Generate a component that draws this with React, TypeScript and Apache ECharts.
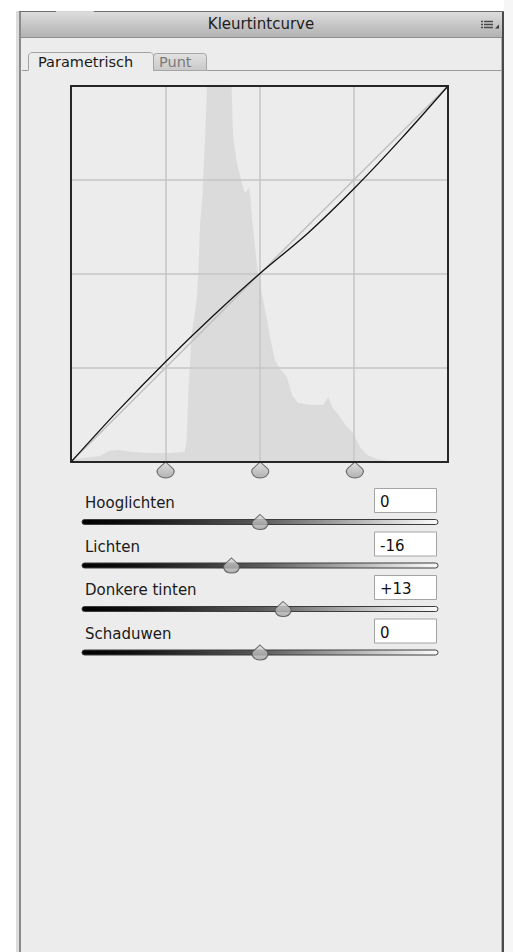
import React, { useEffect, useRef } from "react";
import * as echarts from "echarts";

// ---- data ----
const panelTitle = "Kleurtintcurve";
const tabLabels = ["Parametrisch", "Punt"];

// histogram: input level (0-255) and relative height (1 = top of plot, values above are clipped)
const histLevels = [0, 9.5, 19.6, 26, 33, 40, 53, 67, 77, 78.3, 79.5, 81.6, 85, 86.1, 87.3, 89.1, 91.1, 92, 95, 100, 105, 108.5, 109.6, 112, 115.7, 117.7, 120.4, 121.5, 122.4, 124.5, 126.5, 128.5, 130, 132.6, 134.6, 138, 141, 146, 149.5, 153.6, 161.7, 170.5, 174, 177, 182, 186.7, 190.8, 195.5, 200, 207, 218, 255];
const histCounts = [0.005, 0.011, 0.016, 0.03, 0.032, 0.027, 0.024, 0.024, 0.027, 0.06, 0.2, 0.34, 0.43, 0.5, 0.63, 0.72, 0.9, 1.0, 1.3, 1.5, 1.4, 1.02, 0.87, 0.8, 0.74, 0.715, 0.73, 0.7, 0.65, 0.57, 0.5, 0.46, 0.43, 0.378, 0.332, 0.27, 0.25, 0.226, 0.178, 0.157, 0.152, 0.152, 0.173, 0.144, 0.12, 0.093, 0.077, 0.04, 0.019, 0.008, 0, 0];

// tone curve
const curveIn = [0, 32, 64, 96, 128, 160, 192, 224, 255];
const curveOut = [0, 35, 68, 99, 128, 155, 186, 220, 255];

// split handles under the curve
const splitPoints = [64, 128, 192];

// sliders
const sliderLabels = ["Hooglichten", "Lichten", "Donkere tinten", "Schaduwen"];
const sliderValues = [0, -16, 13, 0];

const FONT = "'DejaVu Sans', 'Noto Sans', sans-serif";
const THUMB = "path://M8 0 L15 6.5 C16 7.5 16 9 15.5 10.5 C14.5 13.5 11.5 15 8 15 C4.5 15 1.5 13.5 0.5 10.5 C0 9 0 7.5 1 6.5 Z";

function fmt(v: number) {
  return v > 0 ? "+" + v : v < 0 ? "-" + Math.abs(v) : "0";
}

export default function App() {
  const ref = useRef<HTMLDivElement>(null);
  useEffect(() => {
    const chart = echarts.init(ref.current!, null, { renderer: "svg" });

    const G = { left: 71, top: 86, width: 377, height: 376 };
    const rowTops = sliderLabels.map((_, i) => 488 + i * 43.5);
    const trackL = 82, trackW = 356;

    const thumbGrad = new echarts.graphic.LinearGradient(0, 0, 0, 1, [
      { offset: 0, color: "#dedede" },
      { offset: 1, color: "#a2a2a2" },
    ]);

    const grids: any[] = [{ ...G, show: false, backgroundColor: "#ffffff" }];
    const xAxes: any[] = [
      {
        type: "value", gridIndex: 0, min: 0, max: 255, interval: 63.75, z: 2,
        axisLine: { show: false }, axisTick: { show: false }, axisLabel: { show: false },
        splitLine: { show: true, lineStyle: { color: "#c6c6c6", width: 1.5 } },
      },
    ];
    const yAxes: any[] = [
      {
        type: "value", gridIndex: 0, min: 0, max: 255, interval: 63.75, z: 2,
        axisLine: { show: false }, axisTick: { show: false }, axisLabel: { show: false },
        splitLine: { show: true, lineStyle: { color: "#c6c6c6", width: 1.5 } },
      },
      { type: "value", gridIndex: 0, min: 0, max: 1, show: false, splitLine: { show: false } },
    ];
    const series: any[] = [
      {
        type: "line", xAxisIndex: 0, yAxisIndex: 1, z: 1, clip: true, symbol: "none",
        data: histLevels.map((l, i) => [l, histCounts[i]]),
        lineStyle: { width: 0, color: "#dbdbdb" },
        areaStyle: { color: "#dbdbdb", opacity: 1 },
        itemStyle: { color: "#dbdbdb" },
      },
      {
        type: "line", xAxisIndex: 0, yAxisIndex: 0, z: 3, symbol: "none",
        data: [[0, 0], [255, 255]],
        lineStyle: { color: "#c0c0c0", width: 1.5 },
      },
      {
        type: "line", xAxisIndex: 0, yAxisIndex: 0, z: 4, symbol: "none", smooth: 0.3,
        data: curveIn.map((x, i) => [x, curveOut[i]]),
        lineStyle: { color: "#111111", width: 1.3 },
      },
      {
        type: "scatter", xAxisIndex: 0, yAxisIndex: 0, z: 6, clip: false,
        symbol: THUMB, symbolSize: [17, 16], symbolOffset: [0, 8],
        data: splitPoints.map((p) => [p, 0]),
        itemStyle: { color: thumbGrad, borderColor: "#4a4a4a", borderWidth: 1 },
      },
    ];

    sliderValues.forEach((v, i) => {
      const ty = rowTops[i] + 34;
      grids.push({ left: trackL, width: trackW, top: ty - 5, height: 10, show: false });
      xAxes.push({ type: "value", gridIndex: i + 1, min: -100, max: 100, show: false });
      yAxes.push({ type: "value", gridIndex: i + 1, min: -1, max: 1, show: false });
      series.push({
        type: "scatter", xAxisIndex: i + 1, yAxisIndex: i + 2, z: 8, clip: false,
        symbol: THUMB, symbolSize: [16, 15],
        data: [[v, 0]],
        itemStyle: { color: thumbGrad, borderColor: "#4a4a4a", borderWidth: 1 },
      });
    });

    const gfx: any[] = [
      // outside page areas
      { type: "rect", z: 1, shape: { x: 0, y: 0, width: 513, height: 11 }, style: { fill: "#ffffff" } },
      { type: "rect", z: 1, shape: { x: 0, y: 0, width: 16, height: 952 }, style: { fill: "#ffffff" } },
      { type: "rect", z: 1, shape: { x: 16, y: 11, width: 3, height: 941 }, style: { fill: "#dcdcdc" } },
      { type: "rect", z: 1, shape: { x: 19, y: 11, width: 2, height: 941 }, style: { fill: "#8a8a8a" } },
      { type: "rect", z: 1, shape: { x: 504, y: 0, width: 9, height: 952 }, style: { fill: "#f6f6f6" } },
      { type: "rect", z: 1, shape: { x: 501, y: 11, width: 1, height: 941 }, style: { fill: "#b0b0b0" } },
      { type: "rect", z: 1, shape: { x: 502, y: 11, width: 2, height: 941 }, style: { fill: "#4a4a4a" } },
      // title bar
      {
        type: "rect", z: 1, shape: { x: 21, y: 11, width: 481, height: 26 },
        style: {
          fill: new echarts.graphic.LinearGradient(0, 0, 0, 1, [
            { offset: 0, color: "#dedede" },
            { offset: 1, color: "#b2b2b2" },
          ]),
        },
      },
      { type: "line", z: 2, shape: { x1: 19, y1: 11.5, x2: 504, y2: 11.5 }, style: { stroke: "#6e6e6e", lineWidth: 1 } },
      { type: "line", z: 2, shape: { x1: 56, y1: 11.5, x2: 94, y2: 11.5 }, style: { stroke: "#d4d4d4", lineWidth: 1 } },
      { type: "line", z: 2, shape: { x1: 21, y1: 37.5, x2: 502, y2: 37.5 }, style: { stroke: "#8e8e8e", lineWidth: 1 } },
      {
        type: "text", z: 3, x: 261, y: 24,
        style: { text: panelTitle, font: `15px ${FONT}`, fill: "#1e1e1e", align: "center", verticalAlign: "middle" },
      },
      // panel menu icon
      ...[21.5, 24.5, 27.5].flatMap((yy) => [
        { type: "rect", z: 3, shape: { x: 481, y: yy - 0.75, width: 2, height: 1.5 }, style: { fill: "#4a4a4a" } },
        { type: "rect", z: 3, shape: { x: 484, y: yy - 0.75, width: 9, height: 1.5 }, style: { fill: "#4a4a4a" } },
      ]),
      { type: "polygon", z: 3, shape: { points: [[499, 24.5], [499, 28.5], [495, 28.5]] }, style: { fill: "#3a3a3a" } },
      // tabs
      { type: "line", z: 2, shape: { x1: 22, y1: 70.5, x2: 28, y2: 70.5 }, style: { stroke: "#9c9c9c", lineWidth: 1 } },
      { type: "line", z: 2, shape: { x1: 207, y1: 70.5, x2: 501, y2: 70.5 }, style: { stroke: "#9c9c9c", lineWidth: 1 } },
      {
        type: "rect", z: 2, shape: { x: 153.5, y: 53.5, width: 53, height: 17, r: [3, 3, 0, 0] },
        style: {
          fill: new echarts.graphic.LinearGradient(0, 0, 0, 1, [
            { offset: 0, color: "#e2e2e2" },
            { offset: 1, color: "#c9c9c9" },
          ]),
          stroke: "#a6a6a6", lineWidth: 1,
        },
      },
      {
        type: "polyline", z: 3,
        shape: { points: [[28.5, 70.5], [28.5, 55], [31, 52.5], [151, 52.5], [153.5, 55], [153.5, 70.5]] },
        style: { stroke: "#a2a2a2", lineWidth: 1, fill: null },
      },
      {
        type: "text", z: 3, x: 38, y: 62,
        style: { text: tabLabels[0], font: `14.5px ${FONT}`, fill: "#1a1a1a", align: "left", verticalAlign: "middle" },
      },
      {
        type: "text", z: 3, x: 159, y: 62,
        style: { text: tabLabels[1], font: `14.5px ${FONT}`, fill: "#7a7a7a", align: "left", verticalAlign: "middle" },
      },
      // plot border
      {
        type: "rect", z: 10, shape: { x: G.left, y: G.top, width: G.width, height: G.height },
        style: { fill: null, stroke: "#262626", lineWidth: 2 },
      },
    ];

    sliderLabels.forEach((lab, i) => {
      const top = rowTops[i];
      const ty = top + 34;
      gfx.push(
        {
          type: "text", z: 3, x: 85, y: top + 15,
          style: { text: lab, font: `15px ${FONT}`, fill: "#1a1a1a", align: "left", verticalAlign: "middle" },
        },
        {
          type: "rect", z: 2, shape: { x: 374.5, y: top + 0.5, width: 62, height: 24 },
          style: { fill: "#ffffff", stroke: "#a4a4a4", lineWidth: 1 },
        },
        {
          type: "text", z: 3, x: 380, y: top + 14,
          style: { text: fmt(sliderValues[i]), font: `15px ${FONT}`, fill: "#111111", align: "left", verticalAlign: "middle" },
        },
        {
          type: "rect", z: 2, shape: { x: trackL, y: ty - 2.5, width: trackW, height: 5, r: 2.5 },
          style: {
            fill: new echarts.graphic.LinearGradient(0, 0, 1, 0, [
              { offset: 0, color: "#000000" },
              { offset: 0.15, color: "#111111" },
              { offset: 0.5, color: "#5a5a5a" },
              { offset: 0.85, color: "#cfcfcf" },
              { offset: 1, color: "#fbfbfb" },
            ]),
            stroke: "#3c3c3c", lineWidth: 1,
          },
        }
      );
    });

    chart.setOption({
      animation: false,
      backgroundColor: "#ececec",
      grid: grids,
      xAxis: xAxes,
      yAxis: yAxes,
      series,
      graphic: { elements: gfx },
    });
    return () => chart.dispose();
  }, []);
  return <div ref={ref} style={{ position: "fixed", left: 0, top: 0, width: 513, height: 952 }} />;
}
